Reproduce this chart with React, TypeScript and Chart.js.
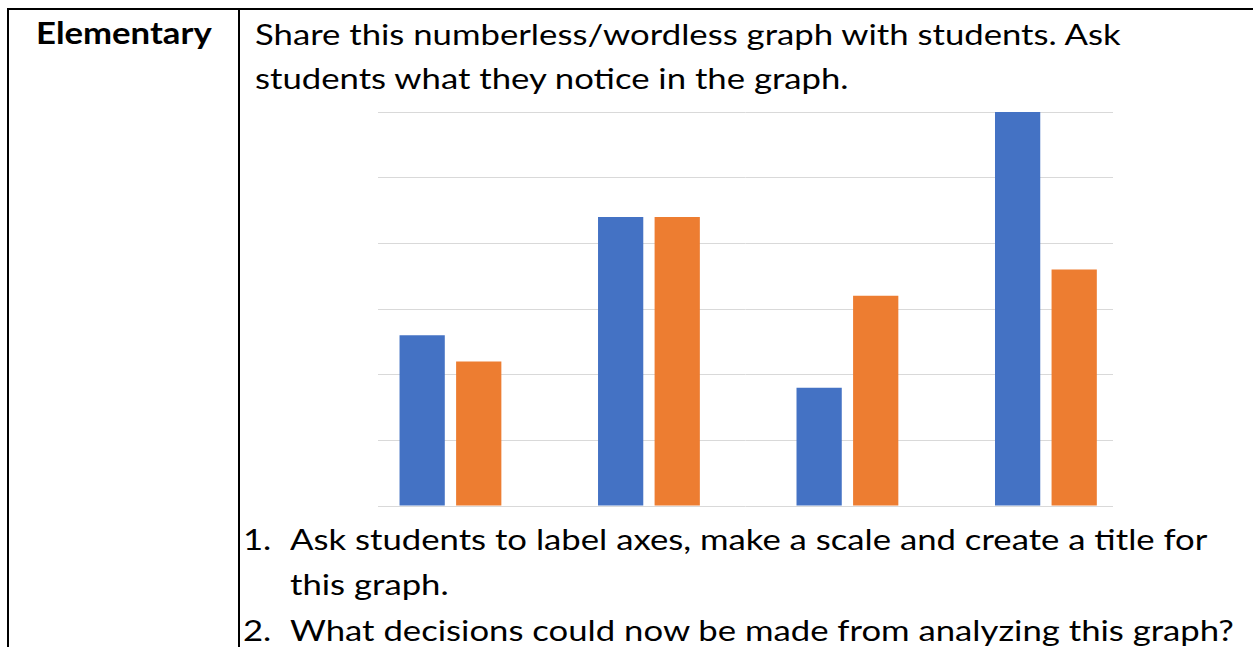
import React, { useEffect, useRef } from "react";
import { Chart, registerables } from "chart.js";

Chart.register(...registerables);

// ---- chart data (numberless / wordless graph) ----
const categories = ["Group 1", "Group 2", "Group 3", "Group 4"];
const categoryPositions = [0, 1, 2, 3];
const seriesBlue = [2.6, 4.4, 1.8, 6.0];
const seriesOrange = [2.2, 4.4, 3.2, 3.6];
const yMin = 0;
const yMax = 6;
const yStep = 1;
const xMin = -0.365;
const xMax = 3.338;

// ---- page text ----
const headerLabel = "Elementary";
const introLines = [
  "Share this numberless/wordless graph with students. Ask",
  "students what they notice in the graph.",
];
const listNumbers = ["1.", "2."];
const listLines = [
  ["Ask students to label axes, make a scale and create a title for", "this graph."],
  ["What decisions could now be made from analyzing this graph?"],
];

const FONT = "Lato, 'Open Sans', sans-serif";
const STRETCH = 1.176;

function Line(props: { x: number; baseline: number; size: number; bold?: boolean; children: React.ReactNode }) {
  const { x, baseline, size, bold, children } = props;
  return (
    <div
      style={{
        position: "absolute",
        left: x,
        top: baseline - 0.887 * size,
        fontSize: size,
        lineHeight: `${size}px`,
        fontWeight: bold ? 700 : 400,
        whiteSpace: "nowrap",
        fontFamily: FONT,
        color: "#000",
        transform: `scaleX(${STRETCH})`,
        transformOrigin: "0 0",
      }}
    >
      {children}
    </div>
  );
}

function BarChart() {
  const ref = useRef<HTMLCanvasElement | null>(null);
  useEffect(() => {
    if (!ref.current) return;
    const chart = new Chart(ref.current, {
      type: "bar",
      data: {
        labels: categories,
        datasets: [
          {
            label: "Series 1",
            data: categoryPositions.map((x, i) => ({ x, y: seriesBlue[i] })),
            backgroundColor: "#4472C4",
            categoryPercentage: 0.57,
            barPercentage: 0.8,
          },
          {
            label: "Series 2",
            data: categoryPositions.map((x, i) => ({ x, y: seriesOrange[i] })),
            backgroundColor: "#ED7D31",
            categoryPercentage: 0.57,
            barPercentage: 0.8,
          },
        ],
      },
      options: {
        animation: false,
        responsive: false,
        devicePixelRatio: 1,
        layout: { padding: 10 },
        plugins: { legend: { display: false }, tooltip: { enabled: false }, title: { display: false } },
        scales: {
          x: {
            type: "linear",
            min: xMin,
            max: xMax,
            offset: false,
            grid: { offset: false, display: false },
            display: false,
            afterBuildTicks: (scale: any) => {
              scale.ticks = categoryPositions.map((v) => ({ value: v }));
            },
          },
          y: {
            min: yMin,
            max: yMax,
            ticks: { display: false, stepSize: yStep },
            grid: { color: "#d9d9d9", lineWidth: 1, drawTicks: false },
            border: { display: false },
          },
        },
      } as any,
    });
    return () => chart.destroy();
  }, []);
  return (
    <canvas
      ref={ref}
      width={755}
      height={414}
      style={{ position: "absolute", left: 368, top: 102, width: 755, height: 414 }}
    />
  );
}

export default function App() {
  const size = 29.5;
  return (
    <div
      style={{
        position: "absolute",
        left: 0,
        top: 0,
        width: 1253,
        height: 647,
        overflow: "hidden",
        background: "#fff",
      }}
    >
      {/* table borders */}
      <div style={{ position: "absolute", left: 7, top: 8, width: 1246, height: 2, background: "#000" }} />
      <div style={{ position: "absolute", left: 7, top: 8, width: 2, height: 639, background: "#000" }} />
      <div style={{ position: "absolute", left: 238, top: 8, width: 2, height: 639, background: "#000" }} />

      <Line x={36} baseline={44.5} size={size} bold>
        {headerLabel}
      </Line>

      <Line x={255} baseline={45} size={size}>{introLines[0]}</Line>
      <Line x={255} baseline={89} size={size}>{introLines[1]}</Line>

      <BarChart />

      <Line x={243} baseline={550} size={size}>{listNumbers[0]}</Line>
      <Line x={290} baseline={550} size={size}>{listLines[0][0]}</Line>
      <Line x={290} baseline={595.5} size={size}>{listLines[0][1]}</Line>
      <Line x={243} baseline={641} size={size}>{listNumbers[1]}</Line>
      <Line x={290} baseline={641} size={size}>{listLines[1][0]}</Line>
    </div>
  );
}
